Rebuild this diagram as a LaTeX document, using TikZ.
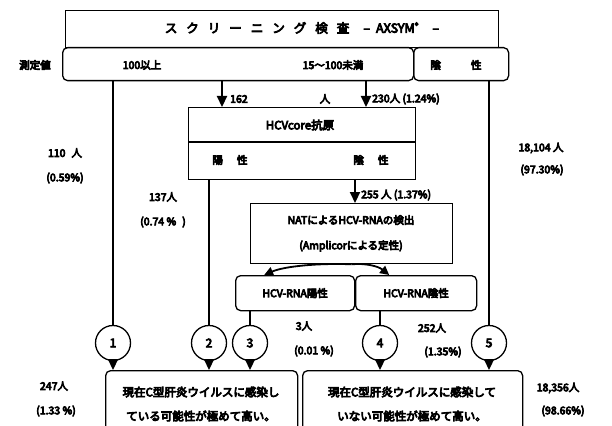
\documentclass[tikz,border=0pt]{standalone}
\usepackage{fontspec}
\setmainfont{Noto Sans CJK JP}
\usetikzlibrary{arrows.meta}
\newcommand\jgap{\hspace{9pt}}
\newcommand\heavy{\special{pdf:literal direct 2 Tr 0.75 w}}
\begin{document}
\begin{tikzpicture}[x=1pt,y=-1pt,
  font=\fontsize{10.5}{12}\selectfont\heavy,
  box/.style={draw, line width=1.3pt, inner sep=0pt},
  rbox/.style={box, rounded corners=5pt},
  conn/.style={line width=2.2pt},
  arr/.style={conn, -{Triangle[width=10pt,length=11pt]}},
  arrc/.style={line width=1.8pt, -{Triangle[width=9pt,length=9pt]}},
  num/.style={circle, draw, line width=1.3pt, minimum size=35pt, inner sep=0pt, fill=white, font=\fontsize{12}{12}\selectfont\heavy},
  lbl/.style={inner sep=0pt},
  big/.style={font=\fontsize{11.5}{12}\selectfont\heavy}]
\useasboundingbox (0,0) rectangle (612,425);
\clip (0,0) rectangle (612,425);
\fill[white] (0,0) rectangle (612,425);

% top title
\node[box, minimum width=433pt, minimum height=37pt, anchor=north west] (title) at (65,10) {};
\node[lbl, font=\fontsize{12.5}{12}\selectfont\heavy] (ttext) at (302,28) {ス\jgap ク\jgap リ\jgap ー\jgap ニ\jgap ン\jgap グ\jgap 検\jgap 査\hspace{14pt}–\hspace{6pt}AXSYM\raisebox{4pt}{\fontsize{8}{8}\selectfont ®}\hspace{14pt}–};

% measurement row
\node[rbox, minimum width=351pt, minimum height=33pt, anchor=north west] (row) at (62,47) {};
\node[rbox, minimum width=95pt, minimum height=33pt, anchor=north west] (negrow) at (413,47) {};
\node[lbl] (sokutei) at (35,65) {測定値};
\node[lbl] (over100) at (142,65) {100以上};
\node[lbl] (mid) at (333,65) {15〜100未満};
\node[lbl] (negtxt) at (456,65) {陰\hspace{30pt}性};

% HCV core box
\node[box, minimum width=227pt, minimum height=72pt, anchor=north west] (hcv) at (188,107) {};
\coordinate (hdiv) at (300,142);
\draw[line width=1.3pt] (hcv.west |- hdiv) -- (hcv.east |- hdiv);
\node[lbl, big] (hcvtxt) at (300,125) {HCVcore抗原};
\node[lbl] (hpos) at (230,160) {陽\hspace{14pt}性};
\node[lbl] (hneg) at (371,160) {陰\hspace{14pt}性};

% NAT box
\node[box, minimum width=202pt, minimum height=60pt, anchor=north west] (nat) at (250,203) {};
\node[lbl] (nattxt1) at (351,220) {NATによるHCV-RNAの検出};
\node[lbl] (nattxt2) at (351,246) {(Amplicorによる定性)};

% RNA result boxes
\node[rbox, minimum width=119pt, minimum height=35pt, anchor=north west] (rpos) at (235,275) {HCV-RNA陽性};
\node[rbox, minimum width=121pt, minimum height=35pt, anchor=north west] (rneg) at (355,275) {HCV-RNA陰性};

% bottom result boxes
\node[rbox, minimum width=192pt, minimum height=80pt, anchor=north west] (lbox) at (105,370) {};
\node[rbox, minimum width=220pt, minimum height=80pt, anchor=north west] (rbox) at (302,370) {};
\node[lbl, big] (lt1) at (201,392) {現在C型肝炎ウイルスに感染し};
\node[lbl, big] (lt2) at (201,416) {ている可能性が極めて高い。};
\node[lbl, big] (rt1) at (412,392) {現在C型肝炎ウイルスに感染して};
\node[lbl, big] (rt2) at (412,416) {いない可能性が極めて高い。};

% circles
\node[num] (n1) at (113,343) {1};
\node[num] (n2) at (209,343) {2};
\node[num] (n3) at (250,343) {3};
\node[num] (n4) at (380,343) {4};
\node[num] (n5) at (489,343) {5};

% arrows from row to HCV core
\coordinate (x162) at (222,0);
\coordinate (x230) at (366,0);
\coordinate (x255) at (355,0);
\draw[arr] (x162 |- row.south) -- (x162 |- hcv.north);
\draw[arr] (x230 |- row.south) -- (x230 |- hcv.north);
\draw[arr] (x255 |- hcv.south) -- (x255 |- nat.north);

% long lines to circles
\draw[conn] (n1 |- row.south) -- (n1);
\draw[conn] (n2 |- hcv.south) -- (n2);
\draw[conn] (n3 |- rpos.south) -- (n3);
\draw[conn] (n4 |- rneg.south) -- (n4);
\draw[conn] (n5 |- negrow.south) -- (n5);

% circles to result boxes
\draw[arr] (n1) -- (n1 |- lbox.north);
\draw[arr] (n2) -- (n2 |- lbox.north);
\draw[arr] (n3) -- (n3 |- lbox.north);
\draw[arr] (n4) -- (n4 |- rbox.north);
\draw[arr] (n5) -- (n5 |- rbox.north);

% NAT to RNA boxes
\draw[arrc] (nat.south) .. controls (320,263) and (285,266) .. ([xshift=-31pt]rpos.north);
\draw[arrc] (nat.south) .. controls (365,263) and (378,266) .. ([xshift=-27pt]rneg.north);

% count labels
\node[lbl, anchor=west] (l162) at (230,99) {162};
\node[lbl] (l162b) at (325,99) {人};
\node[lbl, anchor=west] (l230) at (372,99) {230人 (1.24\%)};
\node[lbl, anchor=west] (l255) at (361,195) {255 人 (1.37\%)};
\node[lbl] (l110a) at (65,153) {110\hspace{6pt}人};
\node[lbl] (l110b) at (65,178) {(0.59\%)};
\node[lbl] (l137a) at (163,197) {137人};
\node[lbl] (l137b) at (163,222) {(0.74 \%\hspace{6pt})};
\node[lbl] (l18104a) at (541,148) {18,104 人};
\node[lbl] (l18104b) at (542,170) {(97.30\%)};
\node[lbl] (l3a) at (304,326) {3人};
\node[lbl] (l3b) at (314,351) {(0.01 \%)};
\node[lbl] (l252a) at (432,328) {252人};
\node[lbl] (l252b) at (443,352) {(1.35\%)};
\node[lbl] (l247a) at (54,386) {247人};
\node[lbl] (l247b) at (56,411) {(1.33 \%)};
\node[lbl] (l18356a) at (558,388) {18,356人};
\node[lbl] (l18356b) at (563,411) {(98.66\%)};
\end{tikzpicture}
\end{document}
